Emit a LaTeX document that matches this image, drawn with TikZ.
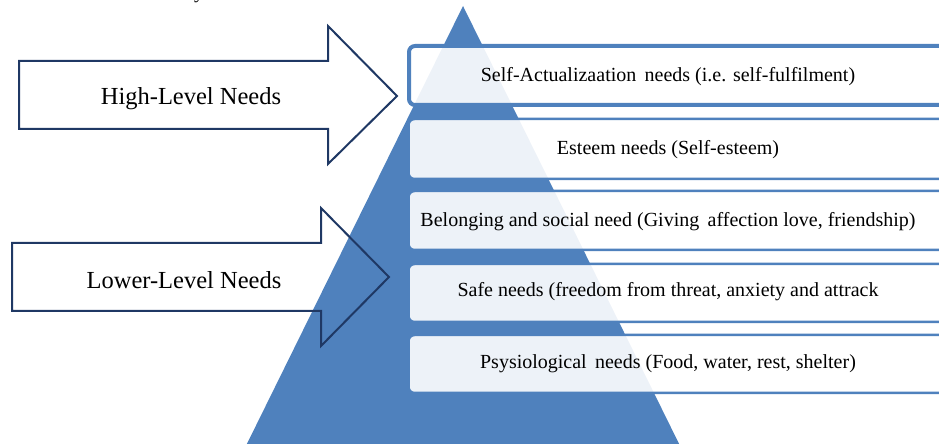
\documentclass[tikz,border=0pt]{standalone}
\usepackage{fontspec}
\setmainfont{Liberation Serif}
\definecolor{pyrblue}{HTML}{4F81BD}
\definecolor{navy}{HTML}{1F3864}
\tikzset{
  x=1pt, y=1pt,
  level/.style={draw=pyrblue, line width=2.5pt, rounded corners=6pt,
    fill=white, fill opacity=0.9},
  toplevel/.style={level, line width=4pt},
  leveltext/.style={font=\fontsize{20}{24}\selectfont, inner sep=0pt},
  blockarrow/.style={draw=navy, line width=2pt, line join=miter},
  arrowtext/.style={font=\fontsize{24.5}{29}\selectfont, inner sep=0pt},
}
\begin{document}
\begin{tikzpicture}
\useasboundingbox (0,0) rectangle (939,444);
\clip (0,0) rectangle (939,444);

% pyramid background
\fill[pyrblue] (463,438) -- (237,-20) -- (689,-20) -- cycle;

% the five levels of the hierarchy
\path[toplevel] (409,339) rectangle (965,398);
\path[level] (408.5,265) rectangle (965,325);
\path[level] (408.5,194) rectangle (965,253);
\path[level] (408.5,122) rectangle (965,180);
\path[level] (408.5,51) rectangle (965,109);

\node[leveltext] (l1) at (668,367) {Self-Actualizaation\, needs (i.e. self-fulfilment)};
\node[leveltext] (l2) at (668,294) {Esteem needs (Self-esteem)};
\node[leveltext] (l3) at (668,222) {Belonging and social need (Giving\, affection love, friendship)};
\node[leveltext] (l4) at (668,152) {Safe needs (freedom from threat, anxiety and attrack};
\node[leveltext] (l5) at (668,80) {Psysiological\, needs (Food, water, rest, shelter)};

% block arrows
\draw[blockarrow] (19,383) -- (328,383) -- (328,418) -- (397,348)
  -- (328,280) -- (328,315) -- (19,315) -- cycle;
\draw[blockarrow] (12,201) -- (321,201) -- (321,236) -- (389,167)
  -- (321,98) -- (321,133) -- (12,133) -- cycle;

\node[arrowtext] (hi) at (191,345) {High-Level Needs};
\node[arrowtext] (lo) at (184,164) {Lower-Level Needs};

% tail of a line of text above
\node[font=\fontsize{20}{24}\selectfont, inner sep=0pt, anchor=base] (cut) at (199,445) {y};
\end{tikzpicture}
\end{document}
